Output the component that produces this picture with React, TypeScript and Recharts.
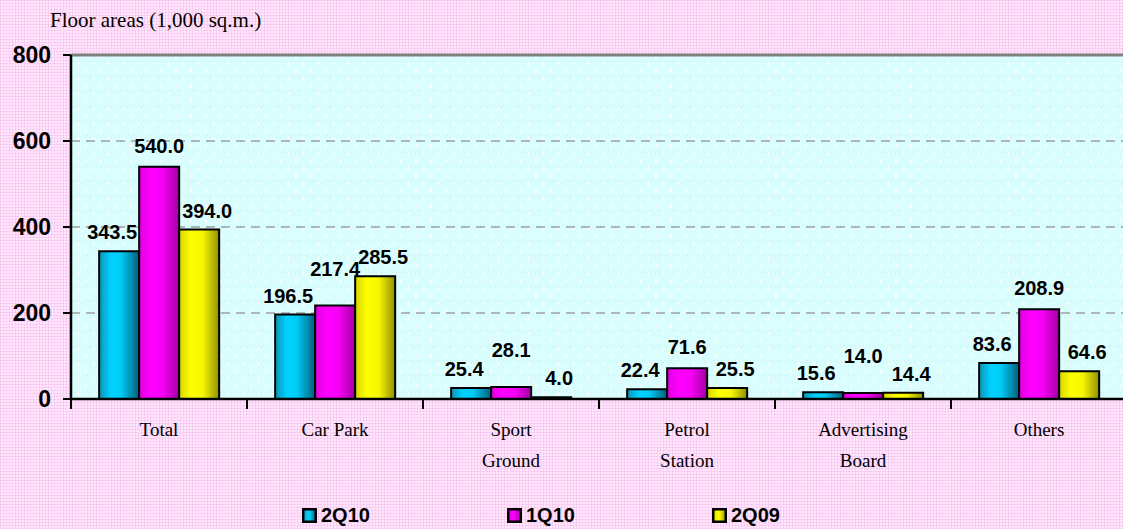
import React from 'react';
import { BarChart, Bar, XAxis, YAxis, CartesianGrid, LabelList, Legend, ReferenceLine } from 'recharts';

const categories = ['Total', 'Car Park', 'Sport\nGround', 'Petrol\nStation', 'Advertising\nBoard', 'Others'];
const s2Q10 = [343.5, 196.5, 25.4, 22.4, 15.6, 83.6];
const s1Q10 = [540.0, 217.4, 28.1, 71.6, 14.0, 208.9];
const s2Q09 = [394.0, 285.5, 4.0, 25.5, 14.4, 64.6];
const seriesNames = ['2Q10', '1Q10', '2Q09'];
const yTicks = [0, 200, 400, 600, 800];

const data = categories.map((c, i) => ({ cat: c, a: s2Q10[i], b: s1Q10[i], c2: s2Q09[i] }));

const SANS = "Arial, 'Liberation Sans', sans-serif";
const SERIF = "'Times New Roman', 'Liberation Serif', serif";

const seriesFill = ['url(#gCyan)', 'url(#gMag)', 'url(#gYel)'];
const legendFill = ['url(#lgCyan)', 'url(#lgMag)', 'url(#lgYel)'];

// category label + tick marks on the category boundaries (half a band either side)
const CatTick = (props: any) => {
  const { x, y, payload, index, visibleTicksCount } = props;
  const half = payload && payload.offset ? payload.offset : 0;
  const lines = String(payload.value).split('\n');
  const isLast = visibleTicksCount ? index === visibleTicksCount - 1 : index === categories.length - 1;
  return (
    <g>
      <line x1={x - half} x2={x - half} y1={y - 1} y2={y + 10} stroke="#000" strokeWidth={2} />
      {isLast && <line x1={x + half} x2={x + half} y1={y - 1} y2={y + 10} stroke="#000" strokeWidth={2} />}
      {lines.map((l: string, i: number) => (
        <text key={i} x={x} y={y} dy={37 + i * 31} textAnchor="middle" fontFamily={SERIF} fontSize={19} fill="#000">
          {l}
        </text>
      ))}
    </g>
  );
};

// label with Excel-like spreading: left series nudged left, right series nudged right,
// middle label lifted when a neighbouring bar has nearly the same height
const makeLabel = (series: number) => (props: any) => {
  const { x, y, width, value, index } = props;
  let dx = 0;
  let lift = 12;
  if (series === 0) dx = -7;
  if (series === 2) dx = 8;
  if (series === 1) {
    const v = s1Q10[index];
    const close = Math.abs(v - s2Q10[index]) < 32 || Math.abs(v - s2Q09[index]) < 32;
    lift = close ? 30 : 14;
  }
  return (
    <text
      x={x + width / 2 + dx}
      y={y - lift}
      textAnchor="middle"
      fontFamily={SANS}
      fontWeight="bold"
      fontSize={20}
      fill="#000"
    >
      {Number(value).toFixed(1)}
    </text>
  );
};

const LegendContent = () => (
  <div style={{ display: 'flex', alignItems: 'center' }}>
    {seriesNames.map((n, i) => (
      <div key={n} style={{ display: 'flex', alignItems: 'center', width: 205 }}>
        <svg width={15} height={15} style={{ marginRight: 4 }}>
          <defs>
            <linearGradient id={['lgCyan', 'lgMag', 'lgYel'][i]} x1="0" y1="0" x2="1" y2="0">
              <stop offset="0" stopColor={['#0aa6c8', '#e600e6', '#dede00'][i]} />
              <stop offset="0.45" stopColor={['#00d2ff', '#ff00ff', '#ffff00'][i]} />
              <stop offset="1" stopColor={['#006a8a', '#a300a3', '#9a9a00'][i]} />
            </linearGradient>
          </defs>
          <rect x={1.25} y={1.25} width={12.5} height={12.5} fill={legendFill[i]} stroke="#000" strokeWidth={2.5} />
        </svg>
        <span style={{ fontFamily: SANS, fontWeight: 'bold', fontSize: 20, color: '#000' }}>{n}</span>
      </div>
    ))}
  </div>
);

export default function App() {
  return (
    <div
      style={{
        position: 'absolute',
        left: 0,
        top: 0,
        width: 1123,
        height: 529,
        overflow: 'hidden',
        backgroundColor: '#ffe8fc',
        backgroundImage:
          'repeating-linear-gradient(0deg, rgba(245,190,238,0.55) 0px, rgba(245,190,238,0.55) 1px, transparent 1px, transparent 3px), repeating-linear-gradient(90deg, rgba(245,190,238,0.55) 0px, rgba(245,190,238,0.55) 1px, transparent 1px, transparent 3px)',
      }}
    >
      <div style={{ position: 'absolute', left: 50, top: 8, fontFamily: SERIF, fontSize: 21, color: '#000', whiteSpace: 'nowrap' }}>
        Floor areas (1,000 sq.m.)
      </div>
      <BarChart
        width={1127}
        height={529}
        data={data}
        margin={{ top: 55, right: 0, bottom: 0, left: 0 }}
        barCategoryGap="16%"
        barGap={0}
      >
        <defs>
          <pattern id="cyanPat" width="15" height="15" patternUnits="userSpaceOnUse">
            <rect width="15" height="15" fill="#dafdfd" />
            <path d="M0 0h1v1H0zM2 2h1v1H2zM4 0h1v1H4zM6 2h1v1H6zM8 0h1v1H8zM10 2h1v1h-1zM12 0h1v1h-1zM14 2h1v1h-1z" fill="#c6f2f2" />
            <path d="M3.5 1.5 L4.7 3.5 L3.5 5.5 L2.3 3.5 Z" fill="#ffffff" />
            <path d="M11 9 L12.2 11 L11 13 L9.8 11 Z" fill="#ffffff" />
          </pattern>
          <linearGradient id="gCyan" x1="0" y1="0" x2="1" y2="0">
            <stop offset="0" stopColor="#0a95b5" />
            <stop offset="0.3" stopColor="#00d2ff" />
            <stop offset="0.55" stopColor="#00caf5" />
            <stop offset="1" stopColor="#005d7c" />
          </linearGradient>
          <linearGradient id="gMag" x1="0" y1="0" x2="1" y2="0">
            <stop offset="0" stopColor="#e000e0" />
            <stop offset="0.3" stopColor="#ff00ff" />
            <stop offset="0.6" stopColor="#f500f5" />
            <stop offset="1" stopColor="#a000a0" />
          </linearGradient>
          <linearGradient id="gYel" x1="0" y1="0" x2="1" y2="0">
            <stop offset="0" stopColor="#d6d600" />
            <stop offset="0.3" stopColor="#ffff00" />
            <stop offset="0.6" stopColor="#f5f500" />
            <stop offset="1" stopColor="#8f8f00" />
          </linearGradient>
        </defs>
        <CartesianGrid
          vertical={false}
          stroke="#a0a0a0"
          strokeWidth={1.5}
          strokeDasharray="9 6"
          fill="url(#cyanPat)"
          fillOpacity={1}
        />
        <XAxis
          dataKey="cat"
          height={130}
          tickLine={false}
          tickSize={0}
          tickMargin={0}
          axisLine={{ stroke: '#000', strokeWidth: 2.5 }}
          tick={<CatTick />}
          interval={0}
        />
        <YAxis
          width={71}
          domain={[0, 800]}
          ticks={yTicks}
          tickSize={8}
          tickMargin={12}
          axisLine={{ stroke: '#000', strokeWidth: 2.5 }}
          tickLine={{ stroke: '#000', strokeWidth: 2 }}
          tick={{ fontFamily: SANS, fontWeight: 'bold', fontSize: 23, fill: '#000' }}
          allowDataOverflow
        />
        <ReferenceLine y={800} stroke="#808080" strokeWidth={3} ifOverflow="extendDomain" />
        {['a', 'b', 'c2'].map((k, i) => (
          <Bar
            key={k}
            dataKey={k}
            name={seriesNames[i]}
            fill={seriesFill[i]}
            stroke="#000"
            strokeWidth={2}
            isAnimationActive={false}
          >
            <LabelList dataKey={k} content={makeLabel(i)} />
          </Bar>
        ))}
        <Legend
          verticalAlign="middle"
          align="center"
          layout="horizontal"
          content={<LegendContent />}
          wrapperStyle={{ top: 504, left: 302, width: 640, bottom: 'auto', right: 'auto', margin: 0 }}
        />
      </BarChart>
    </div>
  );
}
